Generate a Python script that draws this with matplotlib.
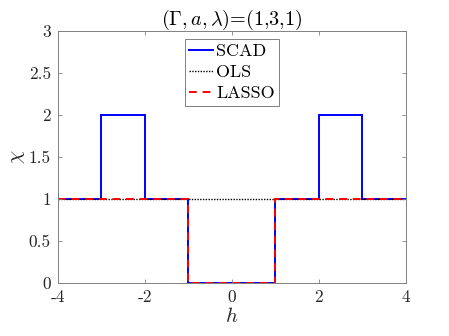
import matplotlib
matplotlib.use("Agg")
import matplotlib.pyplot as plt

plt.rcParams['font.family'] = ['cmr10', 'DejaVu Serif']
plt.rcParams['mathtext.fontset'] = 'cm'
plt.rcParams['axes.unicode_minus'] = False
plt.rcParams['axes.formatter.use_mathtext'] = True

h_edges = [-4, -3, -2, -1, 1, 2, 3, 4]
scad_vals = [1, 2, 1, 0, 1, 2, 1]
ols_vals = [1, 1, 1, 1, 1, 1, 1]
lasso_vals = [1, 1, 1, 0, 1, 1, 1]
xticks = [-4, -2, 0, 2, 4]
yticks = [0, 0.5, 1, 1.5, 2, 2.5, 3]
yticklabels = ['0', '0.5', '1', '1.5', '2', '2.5', '3']

fig = plt.figure(figsize=(4.49, 3.36), dpi=100)
ax = fig.add_axes([0.129, 0.158, 0.775, 0.750])

ax.stairs(scad_vals, h_edges, baseline=None, color=(0, 0, 1), lw=1.4, label='SCAD')
ax.stairs(ols_vals, h_edges, baseline=None, color='black', lw=1.0, ls=(0, (1, 1)), label='OLS')
ax.stairs(lasso_vals, h_edges, baseline=None, color=(1, 0, 0), lw=1.4, ls=(0, (4, 3)), label='LASSO')

ax.set_xlim(-4, 4)
ax.set_ylim(0, 3)
ax.set_xticks(xticks)
ax.set_xticklabels([str(t) for t in xticks])
ax.set_yticks(yticks)
ax.set_yticklabels(yticklabels)

grey = (0.15, 0.15, 0.15)
for s in ax.spines.values():
    s.set_color((0.5, 0.5, 0.5))
    s.set_linewidth(0.7)
ax.tick_params(direction='in', top=True, right=True, length=3, width=0.6,
               colors=(0.5, 0.5, 0.5), labelcolor=grey, labelsize=12.5, pad=5)

ax.set_xlabel(r'$h$', fontsize=15, color=grey, labelpad=1)
ax.set_ylabel(r'$\chi$', fontsize=15, color=grey, labelpad=1)
ax.set_title(r'$(\Gamma, a, \lambda)$=(1,3,1)', fontsize=14.5, color='black', pad=4)

leg = ax.legend(loc='upper center', bbox_to_anchor=(0.5, 0.967), fontsize=13,
                handlelength=1.3, handletextpad=0.2, borderpad=0.25, labelspacing=0.3,
                borderaxespad=0, fancybox=False, framealpha=1, edgecolor=(0.5, 0.5, 0.5))
leg.get_frame().set_linewidth(0.7)

fig.savefig('out.png', dpi=100)
